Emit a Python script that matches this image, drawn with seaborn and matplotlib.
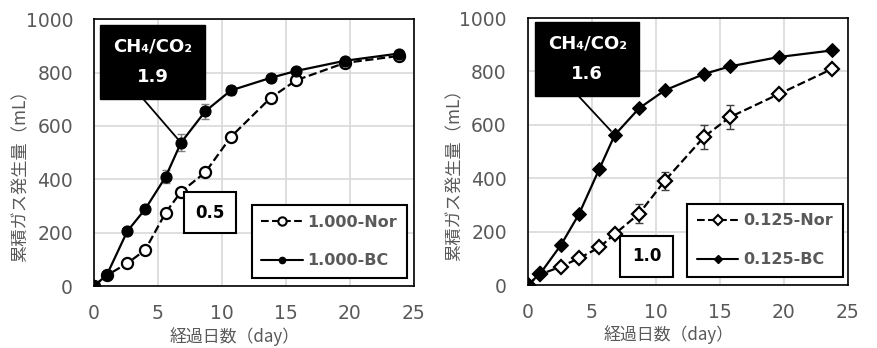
import numpy as np
import pandas as pd
import matplotlib
matplotlib.use("Agg")
import matplotlib.pyplot as plt
from matplotlib.lines import Line2D
import seaborn as sns

# elapsed days (shared by all series)
days = [0, 1, 2.6, 4, 5.6, 6.8, 8.7, 10.7, 13.8, 15.8, 19.6, 23.8]

# left panel: 1.000
nor_1000 = [0, 40, 85, 135, 275, 353, 426, 559, 705, 771, 836, 862]
bc_1000 = [0, 41, 205, 288, 409, 537, 655, 733, 780, 806, 844, 871]
nor_1000_err = [0, 0, 5, 5, 8, 8, 8, 8, 8, 10, 10, 8]
bc_1000_err = [0, 0, 6, 8, 24, 32, 28, 16, 12, 8, 6, 5]

# right panel: 0.125
nor_0125 = [0, 40, 69, 100, 141, 191, 267, 390, 556, 629, 715, 810]
bc_0125 = [0, 44, 150, 265, 435, 562, 662, 729, 791, 819, 854, 879]
nor_0125_err = [0, 0, 5, 6, 8, 12, 36, 34, 45, 44, 10, 10]
bc_0125_err = [0, 0, 5, 5, 5, 5, 5, 5, 5, 5, 5, 5]

labels_1000 = ['1.000-Nor', '1.000-BC']
labels_0125 = ['0.125-Nor', '0.125-BC']
ratio_bc = ['1.9', '1.6']
ratio_nor = ['0.5', '1.0']

xticks = [0, 5, 10, 15, 20, 25]
yticks = [0, 200, 400, 600, 800, 1000]
xlabel = '経過日数（day）'
ylabel = '累積ガス発生量（mL）'

GRAY = '#595959'

sns.set_style("whitegrid")
plt.rcParams['font.family'] = ['DejaVu Sans', 'Noto Sans CJK JP']
plt.rcParams.update({
    'xtick.labelsize': 13.5, 'ytick.labelsize': 13.5,
    'xtick.color': GRAY, 'ytick.color': GRAY,
    'xtick.labelcolor': GRAY, 'ytick.labelcolor': GRAY,
    'xtick.major.size': 0, 'ytick.major.size': 0,
    'xtick.major.pad': 13, 'ytick.major.pad': 15,
})


def panel(ax, nor, bc, nor_err, bc_err, labels, marker, r_bc, r_nor,
          bc_box, nor_box, leg_anchor):
    df = pd.DataFrame({'day': days, 'nor': nor, 'bc': bc})

    # error bars under the markers
    ax.errorbar(days, nor, yerr=nor_err, fmt='none', ecolor='#404040',
                elinewidth=1, capsize=3, capthick=1, zorder=2)
    ax.errorbar(days, bc, yerr=bc_err, fmt='none', ecolor='#808080',
                elinewidth=1, capsize=3, capthick=1, zorder=2)

    ms = 8 if marker == 'o' else 7.5
    sns.lineplot(data=df, x='day', y='nor', ax=ax, color='black',
                 linestyle='--', linewidth=1.6, marker=marker, markersize=ms,
                 markerfacecolor='white', markeredgecolor='black',
                 markeredgewidth=1.6, zorder=3)
    sns.lineplot(data=df, x='day', y='bc', ax=ax, color='black',
                 linestyle='-', linewidth=1.6, marker=marker, markersize=ms,
                 markerfacecolor='black', markeredgecolor='black', zorder=4)

    ax.set_xlim(0, 25)
    ax.set_ylim(0, 1000)
    ax.set_xticks(xticks)
    ax.set_yticks(yticks)
    ax.grid(True, color='#d9d9d9', linewidth=1.2)
    for s in ax.spines.values():
        s.set_color('black')
        s.set_linewidth(1.2)
    ax.set_xlabel(xlabel, fontsize=12.2, color=GRAY,
                  family=['Noto Sans CJK JP', 'DejaVu Sans'])
    ax.set_ylabel(ylabel, fontsize=12.4, color=GRAY,
                  family=['Noto Sans CJK JP', 'DejaVu Sans'])
    ax.xaxis.set_label_coords(0.44, -0.152)
    ax.yaxis.set_label_coords(-0.2, 0.43)

    # CH4/CO2 ratio boxes
    i = days.index(6.8)
    ax.annotate('CH₄/CO₂\n' + r_bc, xy=(days[i], bc[i]), xycoords='data',
                xytext=bc_box, textcoords='axes fraction',
                ha='center', va='center', color='white', fontsize=13,
                fontweight='bold', linespacing=1.9,
                bbox=dict(boxstyle='square,pad=0.7', fc='black', ec='black'),
                arrowprops=dict(arrowstyle='-', color='black', lw=1.3,
                                relpos=(0.24, 0), shrinkA=0, shrinkB=4),
                zorder=6)
    ax.text(nor_box[0], nor_box[1], r_nor, transform=ax.transAxes,
            ha='center', va='center', color='black', fontsize=12,
            fontweight='bold',
            bbox=dict(boxstyle='square,pad=0.7', fc='white', ec='black', lw=1.5),
            zorder=6)

    small = 4.5 if marker == 'o' else 4
    handles = [
        Line2D([], [], color='black', linestyle='--', lw=1.5, marker=marker,
               markersize=small + 1.5, markerfacecolor='white',
               markeredgecolor='black', markeredgewidth=1.5),
        Line2D([], [], color='black', linestyle='-', lw=1.5, marker=marker,
               markersize=small, markerfacecolor='black',
               markeredgecolor='black'),
    ]
    leg = ax.legend(handles, labels, loc='lower right', bbox_to_anchor=leg_anchor,
                    frameon=True, fancybox=False, edgecolor='black',
                    framealpha=1, borderaxespad=0, handlelength=2.6,
                    handletextpad=0.3, labelspacing=1.5, borderpad=0.6,
                    prop={'weight': 'bold', 'size': 11.5, 'family': 'DejaVu Sans'})
    leg.get_frame().set_linewidth(1.5)
    for t in leg.get_texts():
        t.set_color(GRAY)
    leg.set_zorder(7)


fig = plt.figure(figsize=(8.78, 3.48), dpi=100)
ax1 = fig.add_axes([0.107, 0.178, 0.3645, 0.767])
ax2 = fig.add_axes([0.601, 0.181, 0.3645, 0.767])

panel(ax1, nor_1000, bc_1000, nor_1000_err, bc_1000_err, labels_1000, 'o',
      ratio_bc[0], ratio_nor[0], (0.183, 0.841), (0.3625, 0.2745), (0.978, 0.03))
panel(ax2, nor_0125, bc_0125, nor_0125_err, bc_0125_err, labels_0125, 'D',
      ratio_bc[1], ratio_nor[1], (0.186, 0.847), (0.372, 0.107), (0.984, 0.03))

fig.savefig('out.png', dpi=100)
